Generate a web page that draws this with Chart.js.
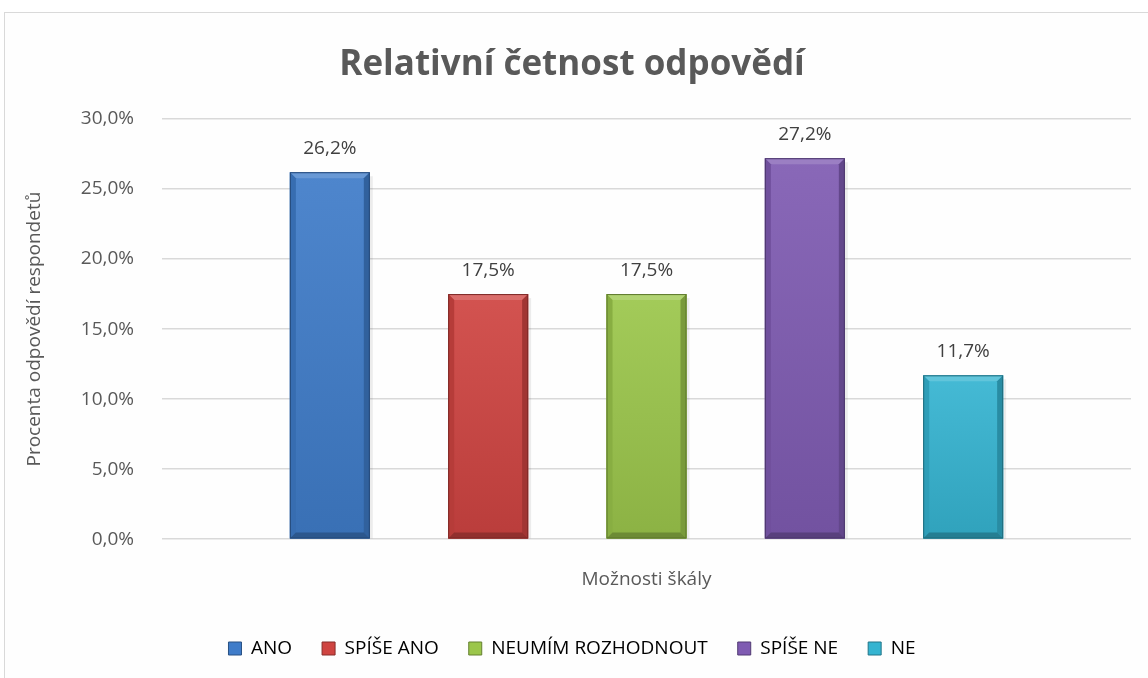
<!DOCTYPE html>
<html>
<head>
<meta charset="utf-8">
<script src="https://cdn.jsdelivr.net/npm/chart.js@4.4.1/dist/chart.umd.min.js"></script>
<style>
html, body { margin: 0; padding: 0; background: #fff; overflow: hidden; width: 1148px; height: 678px; }
#frame { position: absolute; left: 4px; top: 12px; width: 1168px; height: 698px; border: 1px solid #d9d9d9; background: #fefefe; }
</style>
</head>
<body>
<div id="frame"><canvas id="chart"></canvas></div>
<script>
const categories = [''];
const seriesNames = ['ANO', 'SPÍŠE ANO', 'NEUMÍM ROZHODNOUT', 'SPÍŠE NE', 'NE'];
const seriesValues = [26.2, 17.5, 17.5, 27.2, 11.7];
const seriesColors = ['#3f7cc9', '#cf4441', '#9bc64b', '#7f5bb2', '#35b4d1'];
const yTicks = [0, 5, 10, 15, 20, 25, 30];

const FONT = '"Open Sans", "Noto Sans", sans-serif';
const pct = v => Number(v).toFixed(1).replace('.', ',') + '%';

// lighten (amt > 0) or darken (amt < 0) a hex colour
function shade(hex, amt) {
  const n = parseInt(hex.slice(1), 16);
  let r = n >> 16, g = (n >> 8) & 255, b = n & 255;
  const f = c => Math.round(amt > 0 ? c + (255 - c) * amt : c * (1 + amt));
  return `rgb(${f(r)},${f(g)},${f(b)})`;
}

function poly(c, pts, fill) {
  c.beginPath();
  c.moveTo(pts[0][0], pts[0][1]);
  pts.slice(1).forEach(p => c.lineTo(p[0], p[1]));
  c.closePath();
  c.fillStyle = fill;
  c.fill();
}

// bevel look like the office chart
const bevelPlugin = {
  id: 'bevel',
  afterDatasetsDraw(chart) {
    const c = chart.ctx;
    chart.data.datasets.forEach((ds, i) => {
      const bar = chart.getDatasetMeta(i).data[0];
      const { x, y, base, width } = bar.getProps(['x', 'y', 'base', 'width'], true);
      const l = x - width / 2, r = x + width / 2, t = y, b = base, d = 6;
      const col = seriesColors[i];
      c.save();
      c.fillStyle = 'rgba(0,0,0,0.07)';
      c.fillRect(r, t + 4, 3, b - t - 4);
      const g = c.createLinearGradient(0, t, 0, b);
      g.addColorStop(0, shade(col, 0.08));
      g.addColorStop(1, shade(col, -0.1));
      c.fillStyle = g;
      c.fillRect(l, t, width, b - t);
      poly(c, [[l, t], [r, t], [r - d, t + d], [l + d, t + d]], shade(col, 0.22));
      poly(c, [[l, t], [l + d, t + d], [l + d, b - d], [l, b]], shade(col, -0.12));
      poly(c, [[r, t], [r - d, t + d], [r - d, b - d], [r, b]], shade(col, -0.22));
      poly(c, [[l, b], [l + d, b - d], [r - d, b - d], [r, b]], shade(col, -0.3));
      c.strokeStyle = shade(col, -0.4);
      c.lineWidth = 1;
      c.strokeRect(l + 0.5, t + 0.5, width - 1, b - t - 1);
      c.restore();
    });
  }
};

const labelPlugin = {
  id: 'valueLabels',
  afterDatasetsDraw(chart) {
    const c = chart.ctx;
    c.save();
    c.font = `19px ${FONT}`;
    c.fillStyle = '#404040';
    c.textAlign = 'center';
    c.textBaseline = 'bottom';
    chart.data.datasets.forEach((ds, i) => {
      const bar = chart.getDatasetMeta(i).data[0];
      c.fillText(pct(ds.data[0]), bar.x, bar.y - 14);
    });
    c.restore();
  }
};

const ctx = document.getElementById('chart').getContext('2d');
const chart = new Chart(ctx, {
  type: 'bar',
  data: {
    labels: categories,
    datasets: seriesNames.map((name, i) => ({
      label: name,
      data: [seriesValues[i]],
      backgroundColor: seriesColors[i],
      borderWidth: 0
    }))
  },
  options: {
    responsive: true,
    maintainAspectRatio: false,
    animation: false,
    layout: { padding: { top: 10, left: 8, right: 42, bottom: 43 } },
    datasets: { bar: { categoryPercentage: 0.817, barPercentage: 0.505 } },
    scales: {
      x: {
        grid: { display: false },
        border: { display: false },
        ticks: { display: false },
        title: {
          display: true,
          text: 'Možnosti škály',
          font: { family: FONT, size: 19 },
          color: '#595959',
          padding: { top: 21, bottom: 18 }
        }
      },
      y: {
        min: 0,
        max: 30,
        afterBuildTicks: s => { s.ticks = yTicks.map(v => ({ value: v })); },
        ticks: {
          callback: v => pct(v),
          font: { family: FONT, size: 19 },
          color: '#595959',
          padding: 28
        },
        grid: { color: '#d9d9d9', lineWidth: 1.5, drawTicks: false },
        border: { display: false },
        title: {
          display: true,
          text: 'Procenta odpovědí respondetů',
          font: { family: FONT, size: 19 },
          color: '#595959',
          padding: { top: 10, bottom: 7 }
        }
      }
    },
    plugins: {
      title: {
        display: true,
        text: 'Relativní četnost odpovědí',
        font: { family: FONT, size: 35, weight: 'bold' },
        color: '#595959',
        padding: { top: 21, bottom: 33 }
      },
      legend: {
        position: 'bottom',
        labels: {
          boxWidth: 13,
          boxHeight: 13,
          padding: 30,
          color: '#595959',
          font: { family: FONT, size: 19 },
          generateLabels: () => seriesNames.map((name, i) => ({
            text: name,
            fillStyle: seriesColors[i],
            strokeStyle: shade(seriesColors[i], -0.35),
            lineWidth: 1,
            datasetIndex: i
          }))
        }
      },
      tooltip: { enabled: false }
    }
  },
  plugins: [bevelPlugin, labelPlugin]
});
</script>
</body>
</html>
